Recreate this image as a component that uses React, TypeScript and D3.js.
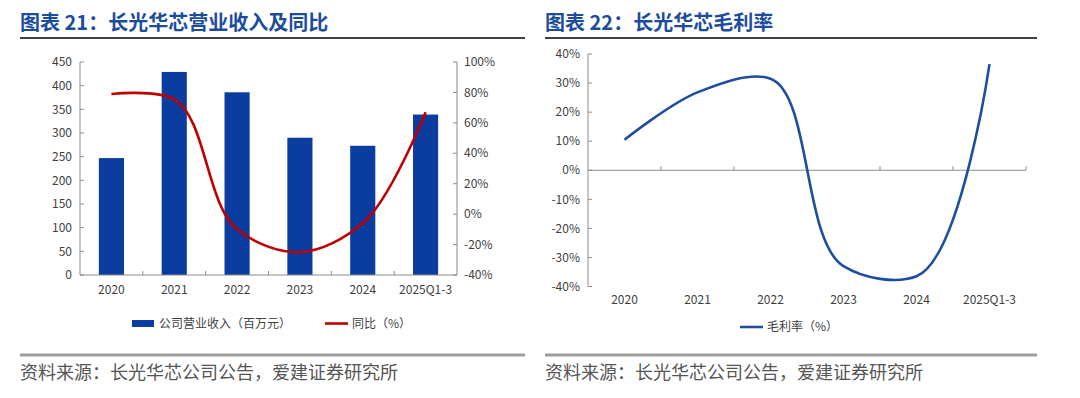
import React from "react";
import * as d3 from "d3";

// data
const categories = ["2020", "2021", "2022", "2023", "2024", "2025Q1-3"];
const revenue = [247, 429, 386, 290, 273, 339]; // 百万元
const revenueYoY = [79, 75.5, -10, -25, -6, 67]; // %
const grossMargin = [10.5, 26.8, 31.5, -33, -36.5, 36.5]; // %

const revTicks = [0, 50, 100, 150, 200, 250, 300, 350, 400, 450];
const yoyTicks = [-40, -20, 0, 20, 40, 60, 80, 100];
const gmTicks = [-40, -30, -20, -10, 0, 10, 20, 30, 40];

const FONT = "'Noto Sans CJK SC', 'Noto Sans', sans-serif";
const TITLE_BLUE = "#1c4c9c";
const BAR_BLUE = "#0b3c9f";
const LINE_RED = "#c00000";
const LINE_BLUE = "#1f4ea0";
const AXIS = "#8c8c8c";
const LABEL = "#404040";

// smoothing similar to the Office "smoothed line"
const smooth = d3.curveCatmullRom.alpha(0.7);

function Header({ x, x2, text }: { x: number; x2: number; text: string }) {
  return (
    <g>
      <text x={x} y={30} fontSize={20} fontWeight={700} fill={TITLE_BLUE} fontFamily={FONT}>
        {text}
      </text>
      <line x1={x} x2={x2} y1={38} y2={38} stroke="#404040" strokeWidth={2} />
      <line x1={x} x2={x2} y1={355} y2={355} stroke="#9d9d9d" strokeWidth={3} />
      <text x={x} y={379} fontSize={18} fill="#555" fontFamily={FONT}>
        资料来源：长光华芯公司公告，爱建证券研究所
      </text>
    </g>
  );
}

function RevenueChart() {
  const x0 = 80,
    x1 = 457,
    yTop = 62,
    yBot = 275;
  const xb = d3.scaleBand<string>().domain(categories).range([x0, x1]);
  const y = d3.scaleLinear().domain([0, 450]).range([yBot, yTop]);
  const y2 = d3.scaleLinear().domain([-40, 100]).range([yBot, yTop]);
  const bw = xb.bandwidth() * 0.4;
  const cx = (c: string) => (xb(c) as number) + xb.bandwidth() / 2;

  const line = d3
    .line<number>()
    .x((_, i) => cx(categories[i]))
    .y((d) => y2(d))
    .curve(smooth);

  return (
    <g fontFamily={FONT}>
      {revenue.map((v, i) => (
        <rect
          key={i}
          x={cx(categories[i]) - bw / 2}
          y={y(v)}
          width={bw}
          height={yBot - y(v)}
          fill={BAR_BLUE}
        />
      ))}
      <path d={line(revenueYoY) || ""} fill="none" stroke={LINE_RED} strokeWidth={2.6} />

      {/* left axis */}
      <line x1={x0} x2={x0} y1={yTop} y2={yBot} stroke={AXIS} />
      {revTicks.map((t) => (
        <g key={t}>
          <line x1={x0} x2={x0 + 4} y1={y(t)} y2={y(t)} stroke={AXIS} />
          <text x={x0 - 8} y={y(t)} dy="0.35em" textAnchor="end" fontSize={12} fill={LABEL}>
            {t}
          </text>
        </g>
      ))}
      {/* right axis */}
      <line x1={x1} x2={x1} y1={yTop} y2={yBot} stroke={AXIS} />
      {yoyTicks.map((t) => (
        <g key={t}>
          <line x1={x1 - 4} x2={x1} y1={y2(t)} y2={y2(t)} stroke={AXIS} />
          <text x={x1 + 7} y={y2(t)} dy="0.35em" fontSize={12} fill={LABEL}>
            {t}%
          </text>
        </g>
      ))}
      {/* x axis */}
      <line x1={x0} x2={x1} y1={yBot} y2={yBot} stroke={AXIS} />
      {categories.slice(1).map((c) => (
        <line key={c} x1={xb(c)} x2={xb(c)} y1={yBot} y2={yBot - 4} stroke={AXIS} />
      ))}
      {categories.map((c) => (
        <text key={c} x={cx(c)} y={290} dy="0.35em" textAnchor="middle" fontSize={12} fill={LABEL}>
          {c}
        </text>
      ))}
      {/* legend */}
      <rect x={132} y={320} width={22} height={7} fill={BAR_BLUE} />
      <text x={159} y={323.5} dy="0.35em" fontSize={12} fill={LABEL}>
        公司营业收入（百万元）
      </text>
      <line x1={325} x2={348} y1={323.5} y2={323.5} stroke={LINE_RED} strokeWidth={2.6} />
      <text x={352} y={323.5} dy="0.35em" fontSize={12} fill={LABEL}>
        同比（%）
      </text>
    </g>
  );
}

function MarginChart() {
  const x0 = 588,
    x1 = 1026,
    yTop = 54,
    yBot = 286.5;
  const xb = d3.scaleBand<string>().domain(categories).range([x0, x1]);
  const y = d3.scaleLinear().domain([-40, 40]).range([yBot, yTop]);
  const cx = (c: string) => (xb(c) as number) + xb.bandwidth() / 2;

  const line = d3
    .line<number>()
    .x((_, i) => cx(categories[i]))
    .y((d) => y(d))
    .curve(smooth);

  return (
    <g fontFamily={FONT}>
      <line x1={x0} x2={x0} y1={yTop} y2={yBot} stroke={AXIS} />
      {gmTicks.map((t) => (
        <g key={t}>
          <line x1={x0} x2={x0 + 4} y1={y(t)} y2={y(t)} stroke={AXIS} />
          <text x={x0 - 8} y={y(t)} dy="0.35em" textAnchor="end" fontSize={12} fill={LABEL}>
            {t}%
          </text>
        </g>
      ))}
      <line x1={x0} x2={x1} y1={y(0)} y2={y(0)} stroke={AXIS} />
      {categories.slice(1).map((c) => (
        <line key={c} x1={xb(c)} x2={xb(c)} y1={y(0)} y2={y(0) - 4} stroke={AXIS} />
      ))}
      <line x1={x1} x2={x1} y1={y(0)} y2={y(0) - 4} stroke={AXIS} />
      <path d={line(grossMargin) || ""} fill="none" stroke={LINE_BLUE} strokeWidth={2.6} />
      {categories.map((c) => (
        <text key={c} x={cx(c)} y={300} dy="0.35em" textAnchor="middle" fontSize={12} fill={LABEL}>
          {c}
        </text>
      ))}
      <line x1={740} x2={763} y1={327} y2={327} stroke={LINE_BLUE} strokeWidth={2.6} />
      <text x={767} y={327} dy="0.35em" fontSize={12} fill={LABEL}>
        毛利率（%）
      </text>
    </g>
  );
}

export default function App() {
  return (
    <div style={{ position: "absolute", left: 0, top: 0 }}>
      <svg width={1080} height={398} style={{ display: "block", background: "#fff" }}>
        <Header x={20} x2={525} text="图表 21：长光华芯营业收入及同比" />
        <Header x={545} x2={1037} text="图表 22：长光华芯毛利率" />
        <RevenueChart />
        <MarginChart />
      </svg>
    </div>
  );
}
